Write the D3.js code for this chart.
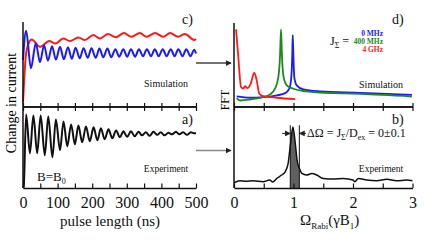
<!DOCTYPE html>
<html><head><meta charset="utf-8">
<script src="https://cdn.jsdelivr.net/npm/d3@7"></script>
<style>
body{margin:0;background:#fff}
</style></head><body>
<svg id="chart" width="436" height="246" font-family="'Liberation Serif','DejaVu Serif',serif"></svg>
<script>
// panel c) simulation, [pulse length ns, amplitude a.u.]
var simRed = [[0,5],[9,62.7],[20,77.7],[25,79.4],[49,70.6],[76,77.4],[94,74.6],[116,80.6],[136,77.4],
  [160,81.8],[179,78.6],[203,84.5],[222,80.6],[246,85.7],[268,82.1],[292,86.9],[313,82.5],[338,86.9],
  [357,82.5],[382,86.9],[405,82.5],[425,86.9],[448,82.5],[468,85.7],[495,78.6],[500,79.8]];
var simBlue = [[0,55],[9,89.6],[23,45.2],[37,75],[49,52.4],[61,72.6],[72,54.2],[84,71.4],[95,55.4],
  [107,70.8],[118,56],[130,70.2],[141,56.5],[152,69.6],[164,57.1],[175,69],[187,57.7],[198,69],
  [210,57.7],[221,68.5],[232,58.3],[244,68.5],[255,58.3],[267,67.9],[278,58.9],[290,67.9],[301,58.9],
  [312,67.9],[324,58.9],[335,67.9],[347,59.5],[358,67.9],[370,59.5],[381,67.9],[392,59.5],[404,67.9],
  [415,59.5],[427,67.9],[438,59.5],[449,67.9],[461,59.5],[472,67.9],[484,59.5],[495,67.3],[500,62.7]];
// panel a) experiment
var expTime = [[0,0],[2,1],[9,90.2],[20,42.7],[30,89],[41,42.7],[51,89],[63,40.2],[73,87.8],[85,37.8],
  [95,84.1],[107,46.3],[117,81.7],[128,51.2],[139,78],[150,53.7],[160,76.8],[171,56.1],[182,75.6],
  [193,57.3],[204,74.4],[215,58.5],[225,73.2],[236,59.8],[247,72],[258,61],[269,70.7],[280,62.2],
  [290,69.5],[301,62.8],[312,69.5],[323,63.4],[334,68.9],[344,64.6],[355,68.3],[366,64],[377,68.9],
  [388,65.2],[398,68.3],[409,64.6],[420,67.7],[431,65.9],[442,68.9],[452,65.9],[463,68.3],[474,65.2],
  [485,68.3],[496,67.1],[500,67.1]];
// panel d) simulated FFT, [Omega_Rabi, a.u.]
var fftBlue = [[0.045,12],[0.27,10.5],[0.49,11.2],[0.72,13.3],[0.86,16],[0.93,21.3],[0.963,35.3],
  [0.98,63.5],[0.987,85.5],[0.997,63.5],[1.013,35.3],[1.054,25.3],[1.165,20.5],[1.445,18.1],
  [2.118,16.3],[2.99,13.9]];
var fftGreen = [[0.045,10],[0.1,7.2],[0.27,8.4],[0.49,11.2],[0.605,14.5],[0.689,21.3],[0.745,35.3],
  [0.773,59.4],[0.79,92.4],[0.807,59.4],[0.829,37.3],[0.886,25.3],[0.997,21.3],[1.222,18.1],
  [1.445,16.5],[2.118,15.1],[2.99,12]];
var fftRed = [[0.034,92.4],[0.072,59.4],[0.118,23.3],[0.156,21.3],[0.185,24.5],[0.224,22],[0.281,27.3],
  [0.341,40.6],[0.382,31.3],[0.425,15.3],[0.492,12.4],[0.718,10.5],[1.03,8.8]];
// panel b) experimental FFT
var fftExp = [[0,6.5],[0.1,8.9],[0.2,8.2],[0.32,8.9],[0.49,7.7],[0.6,9.8],[0.65,7.3],[0.72,11.8],
  [0.8,15.9],[0.86,19.9],[0.91,30.1],[0.95,54.5],[0.99,74.8],[1.03,54.5],[1.06,34.1],[1.1,24],
  [1.14,17.9],[1.22,15.9],[1.31,17.9],[1.39,15.9],[1.5,11.8],[1.67,11],[1.84,11.8],[2.0,9.8],
  [2.03,7.7],[2.09,11.8],[2.23,9.8],[2.4,8.9],[2.57,10.6],[2.73,8.9],[2.9,9.8],[3.0,8.9]];
var band = [0.946, 1.098];        // width of the resonance, ΔΩ
var timeTicks = [0,50,100,150,200,250,300,350,400,450,500];
var timeLabels = [0,100,200,300,400,500];
var omegaTicks = [0,0.5,1,1.5,2,2.5,3];
var omegaLabels = [0,1,2,3];
var jLegend = [['0 MHz','#2424ff'],['400 MHz','#1e8a1e'],['4 GHz','#ff2424']];

var SERIF = "'Liberation Serif','DejaVu Serif',serif";
var svg = d3.select('#chart');
var xL = d3.scaleLinear().domain([0,500]).range([23,196]),
    yC = d3.scaleLinear().domain([0,100]).range([106.5,22]),
    yA = d3.scaleLinear().domain([0,100]).range([188,106.5]),
    xR = d3.scaleLinear().domain([0,3]).range([234,412.5]),
    yD = d3.scaleLinear().domain([0,100]).range([106.5,23]),
    yB = d3.scaleLinear().domain([0,100]).range([188,106.5]);

var defs = svg.append('defs');
defs.append('marker').attr('id','ah').attr('viewBox','0 0 10 10').attr('refX',9).attr('refY',5)
  .attr('markerWidth',6).attr('markerHeight',6).attr('markerUnits','userSpaceOnUse').attr('orient','auto')
  .append('path').attr('d','M0,0L10,5L0,10z').attr('fill','#222');
defs.append('clipPath').attr('id','bandclip').append('rect')
  .attr('x', xR(band[0])).attr('y', 100).attr('width', xR(band[1]) - xR(band[0])).attr('height', 90);

function curve(data, x, y, color, w) {
  svg.append('path').datum(data)
    .attr('d', d3.line().x(function(d) { return x(d[0]); }).y(function(d) { return y(d[1]); }).curve(d3.curveMonotoneX))
    .attr('fill','none').attr('stroke',color).attr('stroke-width',w).attr('stroke-linejoin','round');
}

function axes(x, yTop, yMid, yBot, ticks, labels) {
  svg.append('line').attr('x1',x.range()[0]).attr('x2',x.range()[0]).attr('y1',yTop).attr('y2',yBot)
    .attr('stroke','#111').attr('stroke-width',1.5);
  var mid1 = svg.append('g').attr('transform','translate(0,' + yMid + ')')
    .call(d3.axisBottom(x).tickValues(ticks).tickSizeInner(-3.5).tickSizeOuter(0).tickFormat(''));
  var mid2 = svg.append('g').attr('transform','translate(0,' + yMid + ')')
    .call(d3.axisTop(x).tickValues(ticks).tickSizeInner(-4.5).tickSizeOuter(0).tickFormat(''));
  var bot = svg.append('g').attr('transform','translate(0,' + yBot + ')')
    .call(d3.axisBottom(x).tickValues(ticks).tickSizeInner(-4.5).tickSizeOuter(0).tickPadding(9)
      .tickFormat(function(d) { return labels.indexOf(d) >= 0 ? d : ''; }));
  [mid1, mid2, bot].forEach(function(g) {
    g.attr('font-family', SERIF);
    g.select('.domain').attr('stroke','#111').attr('stroke-width',1.5);
    g.selectAll('.tick line').attr('stroke','#111').attr('stroke-width',1.2);
    g.selectAll('text').attr('font-size',16).attr('font-family',SERIF).attr('fill','#111');
  });
}

// ---- left panels
curve(simRed, xL, yC, '#ff1a1a', 2);
curve(simBlue, xL, yC, '#1a1aff', 2);
curve(expTime, xL, yA, '#111', 2);
axes(xL, 22, 106.5, 188, timeTicks, timeLabels);

// ---- right panels
svg.append('path').datum(fftExp).attr('clip-path','url(#bandclip)')
  .attr('d', d3.area().x(function(d) { return xR(d[0]); }).y0(yB(0)).y1(function(d) { return yB(d[1]); }).curve(d3.curveMonotoneX))
  .attr('fill','#606060');
curve(fftBlue, xR, yD, '#1a1aff', 1.8);
curve(fftGreen, xR, yD, '#1e8a1e', 1.8);
curve(fftRed, xR, yD, '#ff1a1a', 1.8);
curve(fftExp, xR, yB, '#111', 1.5);
band.forEach(function(b) {
  svg.append('line').attr('x1',xR(b)).attr('x2',xR(b)).attr('y1',yB(77)).attr('y2',yB(0))
    .attr('stroke','#111').attr('stroke-width',1);
});
axes(xR, 23, 106.5, 188, omegaTicks, omegaLabels);

// ΔΩ arrows
svg.append('line').attr('x1',xR(0.81)).attr('x2',xR(band[0])).attr('y1',yB(67)).attr('y2',yB(67))
  .attr('stroke','#222').attr('stroke-width',1).attr('marker-end','url(#ah)');
svg.append('line').attr('x1',xR(1.21)).attr('x2',xR(band[1])).attr('y1',yB(67)).attr('y2',yB(67))
  .attr('stroke','#222').attr('stroke-width',1).attr('marker-end','url(#ah)');

// arrows between panels
svg.append('line').attr('x1',196).attr('x2',xR(0) - 3).attr('y1',yD(52)).attr('y2',yD(52))
  .attr('stroke','#444').attr('stroke-width',1.5).attr('marker-end','url(#ah)');
svg.append('line').attr('x1',196).attr('x2',xR(0) - 3).attr('y1',yB(46)).attr('y2',yB(46))
  .attr('stroke','#888').attr('stroke-width',1.5).attr('marker-end','url(#ah)');

// ---- texts
function txt(x, y, s, size, anchor) {
  return svg.append('text').attr('x',x).attr('y',y).attr('font-size',size).attr('font-family',SERIF)
    .attr('fill','#111').attr('text-anchor',anchor || 'start').text(s);
}
txt(182, 24, 'c)', 14);
txt(392, 24, 'd)', 14);
txt(182, 124, 'a)', 14);
txt(392, 124, 'b)', 14);
txt(166, 87, 'Simulation', 10, 'middle');
txt(381, 88, 'Simulation', 10, 'middle');
txt(166, 172, 'Experiment', 9.5, 'middle');
txt(381, 172, 'Experiment', 9.5, 'middle');
txt(110, 226, 'pulse length (ns)', 15, 'middle');
svg.append('text').attr('transform','translate(16,103) rotate(-90)').attr('text-anchor','middle')
  .attr('font-family',SERIF).attr('font-size',14).text('Change in current');
svg.append('text').attr('transform','translate(229,100) rotate(-90)').attr('text-anchor','middle')
  .attr('font-family',SERIF).attr('font-size',12).text('FFT');

var bb = txt(37, 181, 'B=B', 13);
bb.append('tspan').attr('font-size',8).attr('dy',3).text('0');

var om = txt(300, 225, 'Ω', 15);
om.append('tspan').attr('font-size',9).attr('dy',4).text('Rabi');
om.append('tspan').attr('dy',-4).text('(γB');
om.append('tspan').attr('font-size',9).attr('dy',4).text('1');
om.append('tspan').attr('dy',-4).text(')');

var dl = txt(307, 137, 'ΔΩ = J', 12);
dl.append('tspan').attr('font-size',8).attr('dy',3).text('Σ');
dl.append('tspan').attr('dy',-3).text('/D');
dl.append('tspan').attr('font-size',8).attr('dy',3).text('ex');
dl.append('tspan').attr('dy',-3).text(' = 0±0.1');

var jl = txt(330, 45, 'J', 12);
jl.append('tspan').attr('font-size',8).attr('dy',3).text('Σ');
jl.append('tspan').attr('dy',-3).text(' =');
jLegend.forEach(function(l, i) {
  txt(383, 36 + i * 8, l[0], 7.5, 'end').attr('fill', l[1]).attr('font-weight','bold');
});
</script>
</body></html>
